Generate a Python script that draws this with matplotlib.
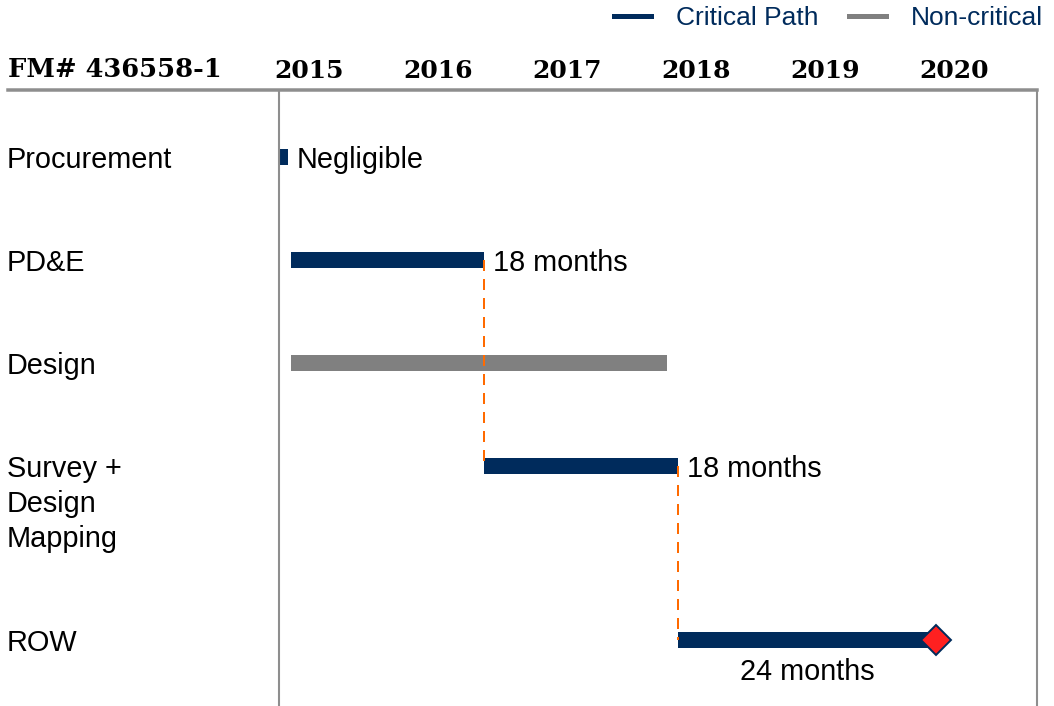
import matplotlib
matplotlib.use("Agg")
import matplotlib.pyplot as plt
from matplotlib.lines import Line2D

# ---- schedule data (months counted from January 2015) ----
tasks = ["Procurement", "PD&E", "Design", "Survey +\nDesign\nMapping", "ROW"]
start_month = [3.2, 4.3, 4.3, 22.3, 40.3]
duration_months = [0.8, 18, 35, 18, 24]
critical = [True, True, False, True, True]
duration_text = ["Negligible", "18 months", "", "18 months", "24 months"]
years = [2015, 2016, 2017, 2018, 2019, 2020]
project_id = "FM# 436558-1"

# ---- layout / style ----
row_pos = [0, 1, 2, 3, 4.69]
label_side = ["right", "right", None, "right", "below"]
NAVY = "#002B5C"
GREY_BAR = "#808080"
RULE = "#8E8E8E"
ORANGE = "#FF6A00"
W, H, DPI = 1054, 706, 100
PX = 72 / DPI  # points per pixel

fig = plt.figure(figsize=(W / DPI, H / DPI), dpi=DPI)
fig.patch.set_facecolor("white")

ax_left, ax_right, ax_top = 279, 1036.5, 91
ax = fig.add_axes([ax_left / W, 0, (ax_right - ax_left) / W, 1 - ax_top / H])

px_per_month, x0 = 10.75, 244.6
ax.set_xlim((ax_left - x0) / px_per_month, (ax_right - x0) / px_per_month)
row_px, row0 = 103, 157
ax.set_ylim((H - row0) / row_px, (ax_top - row0) / row_px)

for side in ("top", "bottom"):
    ax.spines[side].set_visible(False)
for side in ("left", "right"):
    ax.spines[side].set_color(RULE)
    ax.spines[side].set_linewidth(1.5)
ax.set_yticks([])

# year labels on top, centred mid-year
ax.xaxis.set_ticks_position("top")
ax.set_xticks([(y - 2015) * 12 + 6 for y in years])
ax.set_xticklabels([str(y) for y in years], fontfamily="DejaVu Serif",
                   fontweight="bold", fontsize=18)
ax.tick_params(axis="x", length=0, pad=6)

font = dict(family="Liberation Sans", size=20.8, color="black")
bar_h = 16 / row_px

# bars
colors = [NAVY if c else GREY_BAR for c in critical]
ax.barh(row_pos, duration_months, left=start_month, height=bar_h,
        color=colors, edgecolor="none", zorder=2)

# dependency connectors along the critical path
crit_idx = [i for i, c in enumerate(critical) if c and duration_months[i] >= 1]
for a, b in zip(crit_idx[:-1], crit_idx[1:]):
    xe = start_month[a] + duration_months[a]
    ax.plot([xe, xe], [row_pos[a], row_pos[b]], color=ORANGE, lw=2 * PX,
            ls=(0, (5.5, 4)), zorder=3)

# finish milestone
last = crit_idx[-1]
ax.plot(start_month[last] + duration_months[last], row_pos[last], marker="D",
        ms=15, mfc="#FF2020", mec=NAVY, mew=1.4, zorder=4, clip_on=False)

# duration labels
for i, txt in enumerate(duration_text):
    if not txt:
        continue
    end = start_month[i] + duration_months[i]
    if label_side[i] == "right":
        ax.annotate(txt, (end, row_pos[i]), xytext=(9 * PX, -11 * PX),
                    textcoords="offset points", ha="left", va="baseline", **font)
    else:
        mid = start_month[i] + duration_months[i] / 2
        ax.annotate(txt, (mid, row_pos[i]), xytext=(0, -40 * PX),
                    textcoords="offset points", ha="center", va="baseline", **font)

# task names on the left
for i, name in enumerate(tasks):
    for k, line in enumerate(name.split("\n")):
        ax.annotate(line, (7 / W, row_pos[i]), xycoords=("figure fraction", "data"),
                    xytext=(0, -(11 + 35 * k) * PX), textcoords="offset points",
                    ha="left", va="baseline", annotation_clip=False, **font)

# header
fig.text(8 / W, 1 - 77 / H, project_id, fontfamily="DejaVu Serif",
         fontweight="bold", fontsize=18.5, ha="left", va="baseline")
fig.add_artist(Line2D([8 / W, ax_right / W], [1 - 90 / H, 1 - 90 / H],
                      color=RULE, lw=3.5 * PX))

# legend
handles = [Line2D([], [], color=NAVY, lw=5 * PX),
           Line2D([], [], color=GREY_BAR, lw=5 * PX)]
fig.legend(handles, ["Critical Path", "Non-critical"], ncol=2, frameon=False,
           loc="center right", bbox_to_anchor=(1043 / W, 1 - 18 / H),
           prop=dict(family="Liberation Sans", size=19), labelcolor=NAVY,
           handlelength=1.4, handletextpad=0.95, columnspacing=1.15,
           borderpad=0, borderaxespad=0)

fig.savefig("out.png", dpi=DPI, facecolor="white")
